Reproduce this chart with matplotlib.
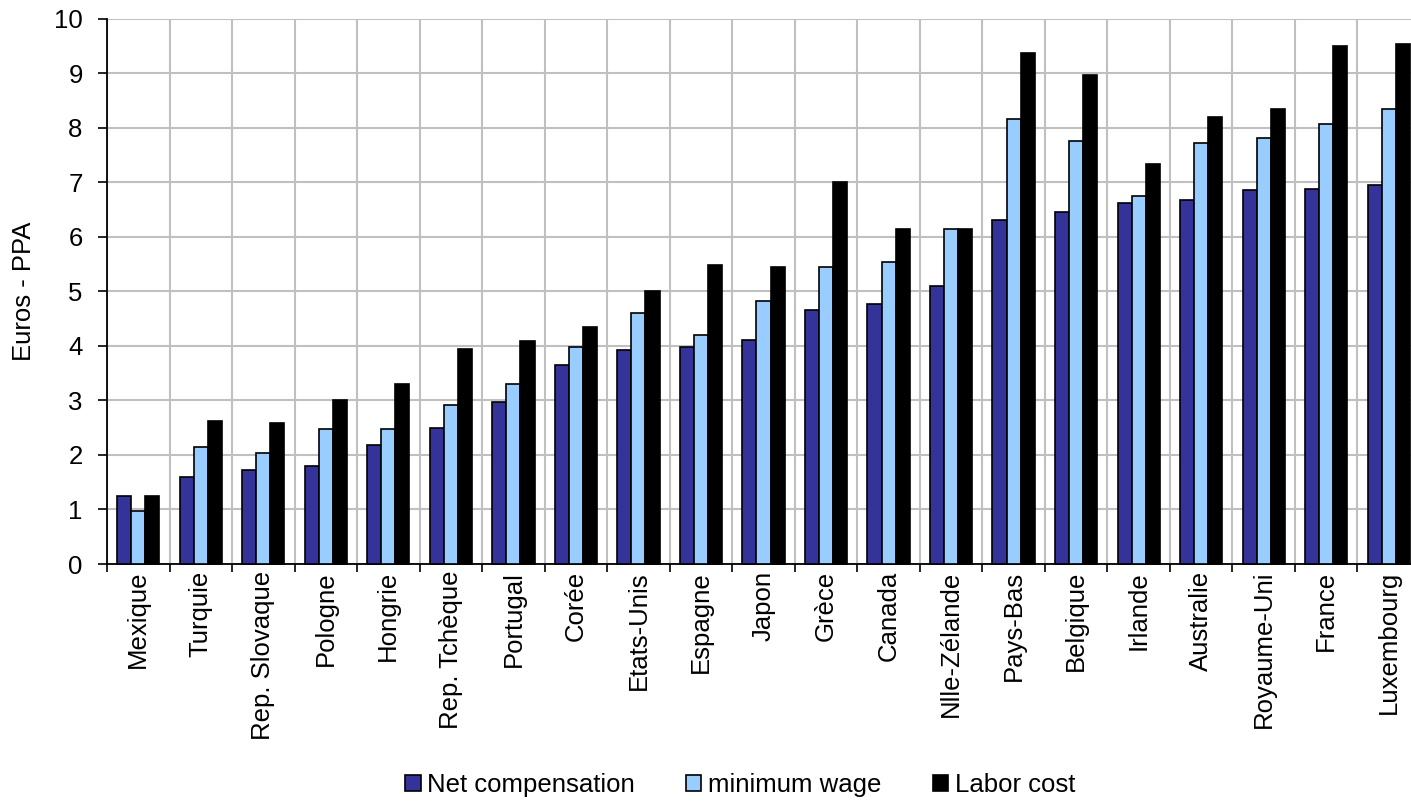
import numpy as np
import matplotlib
matplotlib.use("Agg")
import matplotlib.pyplot as plt
from matplotlib.ticker import FixedLocator, NullFormatter

plt.rcParams['font.family'] = ['Liberation Sans', 'DejaVu Sans']

countries = ["Mexique", "Turquie", "Rep. Slovaque", "Pologne", "Hongrie",
             "Rep. Tchèque", "Portugal", "Corée", "Etats-Unis", "Espagne",
             "Japon", "Grèce", "Canada", "Nlle-Zélande", "Pays-Bas",
             "Belgique", "Irlande", "Australie", "Royaume-Uni", "France",
             "Luxembourg"]
net_compensation = [1.25, 1.60, 1.73, 1.80, 2.18, 2.50, 2.97, 3.65, 3.93, 3.98,
                    4.10, 4.65, 4.77, 5.10, 6.30, 6.45, 6.62, 6.68, 6.85, 6.87,
                    6.95]
minimum_wage = [0.97, 2.15, 2.03, 2.48, 2.48, 2.92, 3.30, 3.97, 4.60, 4.20,
                4.82, 5.45, 5.53, 6.15, 8.15, 7.75, 6.75, 7.72, 7.81, 8.07,
                8.35]
labor_cost = [1.25, 2.62, 2.58, 3.00, 3.30, 3.95, 4.08, 4.35, 5.00, 5.48,
              5.45, 7.00, 6.15, 6.15, 9.37, 8.97, 7.33, 8.19, 8.35, 9.50,
              9.53]
series_names = ["Net compensation", "minimum wage", "Labor cost"]
series_colors = ["#333399", "#99ccff", "#000000"]

FS = 18.5
W, H = 1411, 802
fig = plt.figure(figsize=(W / 100, H / 100), dpi=100)
left, right, bottom, top = 107, 1420, 564, 18.5
ax = fig.add_axes([left / W, 1 - bottom / H, (right - left) / W, (bottom - top) / H])

x = np.arange(len(countries))
bw = 0.225
for i, (vals, name, col) in enumerate(zip([net_compensation, minimum_wage, labor_cost],
                                          series_names, series_colors)):
    ax.bar(x + (i - 1) * bw, vals, width=bw, color=col, edgecolor="black",
           linewidth=1.2, label=name, zorder=3, clip_on=False)

ax.set_xlim(-0.5, len(countries) - 0.5)
ax.set_ylim(0, 10)
ax.set_yticks(np.arange(0, 11, 1))
ax.tick_params(axis="y", labelsize=FS, length=6.5, width=1.2, direction="out", pad=11)

# category boundaries carry the x ticks and vertical grid
ax.xaxis.set_major_locator(FixedLocator(np.arange(-0.5, len(countries), 1)))
ax.xaxis.set_major_formatter(NullFormatter())
ax.xaxis.set_minor_locator(FixedLocator(x))
ax.set_xticklabels(countries, minor=True, rotation=90, fontsize=FS)
ax.tick_params(axis="x", which="major", length=6, width=1.2, direction="out")
ax.tick_params(axis="x", which="minor", length=0, pad=5)

ax.grid(True, which="major", color="#c0c0c0", linewidth=1.5, zorder=0)
ax.set_axisbelow(True)
for s in ["top", "right"]:
    ax.spines[s].set_visible(False)
ax.spines["left"].set_linewidth(1.3)
ax.spines["bottom"].set_linewidth(1.3)

ax.set_ylabel("Euros - PPA", fontsize=FS)
ax.yaxis.set_label_coords((36 - left) / (right - left), 0.5)

fig.legend(loc="center", bbox_to_anchor=(740 / W, 1 - 785 / H), ncol=3,
           frameon=False, fontsize=FS, handlelength=0.6, handleheight=0.6,
           handletextpad=0.25, columnspacing=2.0)

fig.savefig("out.png", dpi=100)
